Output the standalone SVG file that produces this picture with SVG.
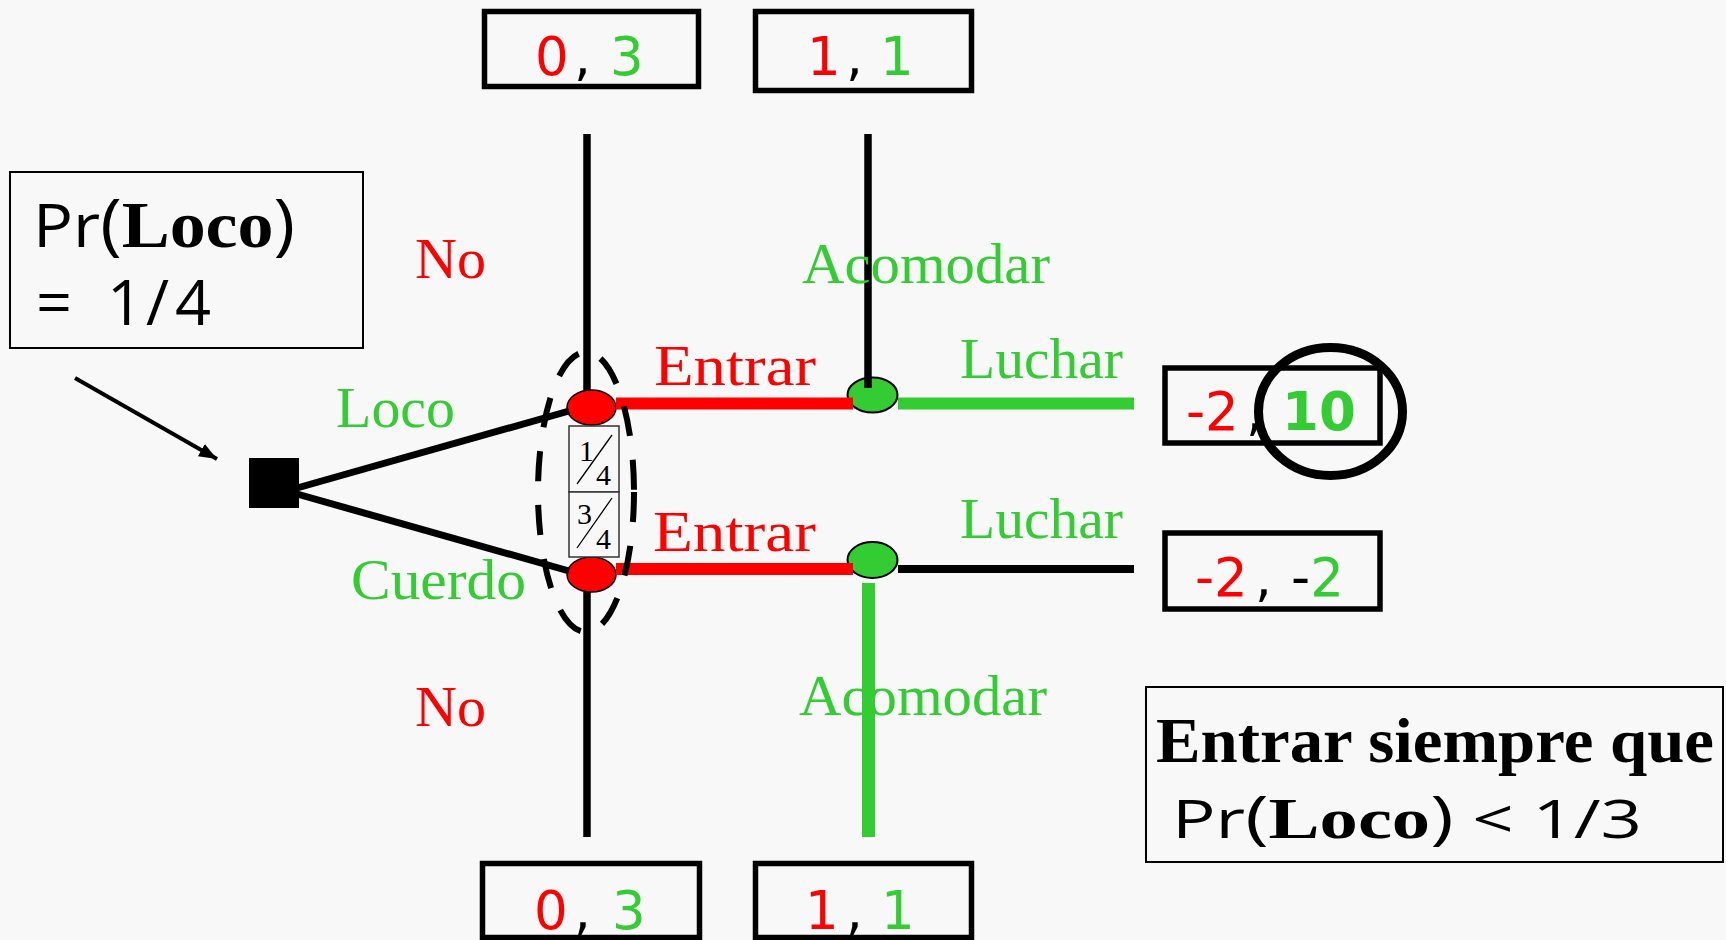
<svg xmlns="http://www.w3.org/2000/svg" width="1726" height="940" viewBox="0 0 1726 940">
<style>
.lbl{font-family:"Liberation Serif","Times New Roman",serif;font-size:57px}
.red{fill:#ff0000}
.grn{fill:#33cc33}
.blk{fill:#000}
.pay{font-family:"DejaVu Sans",Verdana,sans-serif;font-size:53px}
.box{fill:none;stroke:#000;stroke-width:5.5}
.info{fill:none;stroke:#000;stroke-width:2}
.sans{font-family:"Open Sans","DejaVu Sans",sans-serif}
.serifb{font-family:"Liberation Serif","Times New Roman",serif;font-weight:bold}
.frac{font-family:"Liberation Serif","Times New Roman",serif;font-size:30px}
</style>
<defs>
<marker id="ah" markerUnits="userSpaceOnUse" markerWidth="20" markerHeight="16" refX="18" refY="7" orient="auto">
<path d="M0,0 L18,7 L0,14 Z" fill="#000"/>
</marker>
</defs>
<rect width="1726" height="940" fill="#f8f8f8"/>

<g id="nodes">
<g id="chance"><rect x="249" y="458" width="50" height="50" fill="#000"/></g>
<g id="node-loco"><ellipse cx="591.5" cy="407.5" rx="24.5" ry="17.5" fill="#ff0000" stroke="#000" stroke-width="1.5"/></g>
<g id="node-cuerdo"><ellipse cx="591.5" cy="574.5" rx="24.5" ry="17.5" fill="#ff0000" stroke="#000" stroke-width="1.5"/></g>
<g id="node-inc-top"><ellipse cx="872.5" cy="395" rx="25" ry="17.5" fill="#33cc33" stroke="#000" stroke-width="2"/></g>
<g id="node-inc-bottom"><ellipse cx="872.5" cy="560" rx="25" ry="18" fill="#33cc33" stroke="#000" stroke-width="2"/></g>
</g>

<g id="connectors" stroke-linecap="butt">
<line x1="587" y1="134" x2="587" y2="390" stroke="#000" stroke-width="7.5"/>
<line x1="587" y1="592" x2="587" y2="837" stroke="#000" stroke-width="7.5"/>
<line x1="868" y1="134" x2="868" y2="388" stroke="#000" stroke-width="7.5"/>
<line x1="868.5" y1="583" x2="868.5" y2="837" stroke="#33cc33" stroke-width="13"/>
<line x1="290" y1="490" x2="569" y2="411" stroke="#000" stroke-width="7"/>
<line x1="290" y1="492" x2="569" y2="571" stroke="#000" stroke-width="7"/>
<line x1="616" y1="403.5" x2="853" y2="403.5" stroke="#ff0000" stroke-width="12"/>
<line x1="616" y1="569" x2="853" y2="569" stroke="#ff0000" stroke-width="12"/>
<line x1="898" y1="403.5" x2="1134" y2="403.5" stroke="#33cc33" stroke-width="12"/>
<line x1="898" y1="569" x2="1134" y2="569" stroke="#000" stroke-width="8"/>
<line x1="75" y1="378" x2="217" y2="459" stroke="#000" stroke-width="4" marker-end="url(#ah)"/>
</g>

<g id="info-set">
<ellipse cx="586" cy="492" rx="48" ry="140" fill="none" stroke="#000" stroke-width="6" stroke-dasharray="30 24"/>
<g id="prob-loco">
<rect x="569" y="426" width="50" height="66" fill="#f8f8f8" stroke="#333" stroke-width="1.5"/>
<text class="frac" x="579" y="461">1</text>
<line x1="577" y1="484" x2="612" y2="435" stroke="#000" stroke-width="1.3"/>
<text class="frac" x="596" y="485">4</text>
</g>
<g id="prob-cuerdo">
<rect x="569" y="492" width="50" height="65" fill="#f8f8f8" stroke="#333" stroke-width="1.5"/>
<text class="frac" x="577" y="524">3</text>
<line x1="577" y1="548" x2="612" y2="498" stroke="#000" stroke-width="1.3"/>
<text class="frac" x="596" y="549">4</text>
</g>
</g>

<g id="labels">
<text class="lbl red" x="415" y="278" textLength="71" lengthAdjust="spacingAndGlyphs">No</text>
<text class="lbl grn" x="802" y="283" textLength="248" lengthAdjust="spacingAndGlyphs">Acomodar</text>
<text class="lbl red" x="654" y="385" textLength="162" lengthAdjust="spacingAndGlyphs">Entrar</text>
<text class="lbl grn" x="960" y="378" textLength="163" lengthAdjust="spacingAndGlyphs">Luchar</text>
<text class="lbl grn" x="336" y="427" textLength="119" lengthAdjust="spacingAndGlyphs">Loco</text>
<text class="lbl red" x="653" y="551" textLength="163" lengthAdjust="spacingAndGlyphs">Entrar</text>
<text class="lbl grn" x="960" y="538" textLength="163" lengthAdjust="spacingAndGlyphs">Luchar</text>
<text class="lbl grn" x="351" y="599" textLength="175" lengthAdjust="spacingAndGlyphs">Cuerdo</text>
<text class="lbl red" x="415" y="726" textLength="71" lengthAdjust="spacingAndGlyphs">No</text>
<text class="lbl grn" x="799" y="715" textLength="248" lengthAdjust="spacingAndGlyphs">Acomodar</text>
</g>

<g id="payoff-top-no">
<rect class="box" x="484.5" y="11.5" width="214" height="75"/>
<text class="pay" y="75"><tspan class="red" x="535">0</tspan><tspan class="blk" x="574">, </tspan><tspan class="grn" x="610">3</tspan></text>
</g>
<g id="payoff-top-acomodar">
<rect class="box" x="755.5" y="11.5" width="216" height="79"/>
<text class="pay" y="75"><tspan class="red" x="807">1</tspan><tspan class="blk" x="846">, </tspan><tspan class="grn" x="880">1</tspan></text>
</g>
<g id="payoff-bottom-no">
<rect class="box" x="482.5" y="863.5" width="217" height="74"/>
<text class="pay" y="929"><tspan class="red" x="534">0</tspan><tspan class="blk" x="574">, </tspan><tspan class="grn" x="612">3</tspan></text>
</g>
<g id="payoff-bottom-acomodar">
<rect class="box" x="755.5" y="863.5" width="216" height="74"/>
<text class="pay" y="929"><tspan class="red" x="805">1</tspan><tspan class="blk" x="846">, </tspan><tspan class="grn" x="881">1</tspan></text>
</g>
<g id="payoff-loco-luchar">
<rect class="box" x="1165" y="368" width="215" height="75"/>
<text class="pay" y="430"><tspan class="red" x="1186">-2</tspan><tspan class="blk" x="1246">, </tspan><tspan class="grn" x="1282" font-weight="bold">10</tspan></text>
<ellipse cx="1330.5" cy="411.5" rx="72" ry="64" fill="none" stroke="#000" stroke-width="9"/>
</g>
<g id="payoff-cuerdo-luchar">
<rect class="box" x="1165" y="533" width="215" height="76"/>
<text class="pay" y="596"><tspan class="red" x="1195">-2</tspan><tspan class="blk" x="1255">, </tspan><tspan class="blk" x="1291">-</tspan><tspan class="grn">2</tspan></text>
</g>

<g id="prior-box">
<rect class="info" x="10" y="172" width="353" height="176"/>
<text x="33" y="247" font-size="61" textLength="262" lengthAdjust="spacingAndGlyphs"><tspan class="sans">Pr</tspan><tspan class="sans" font-size="67">(</tspan><tspan class="serifb" font-size="66">Loco</tspan><tspan class="sans" font-size="67">)</tspan></text>
<text class="sans" y="325" font-size="63"><tspan x="36">= </tspan><tspan x="107">1</tspan><tspan x="146">/</tspan><tspan x="175">4</tspan></text>
</g>

<g id="conclusion-box">
<rect class="info" x="1146" y="687" width="577" height="175"/>
<text class="serifb" x="1156" y="762" font-size="63" textLength="558" lengthAdjust="spacingAndGlyphs">Entrar siempre que</text>
<text x="1172" y="838" font-size="53" textLength="470" lengthAdjust="spacingAndGlyphs"><tspan class="sans">Pr</tspan><tspan class="sans" font-size="58">(</tspan><tspan class="serifb" font-size="56">Loco</tspan><tspan class="sans" font-size="58">)</tspan><tspan class="sans">  &lt;  1/3</tspan></text>
</g>
</svg>
